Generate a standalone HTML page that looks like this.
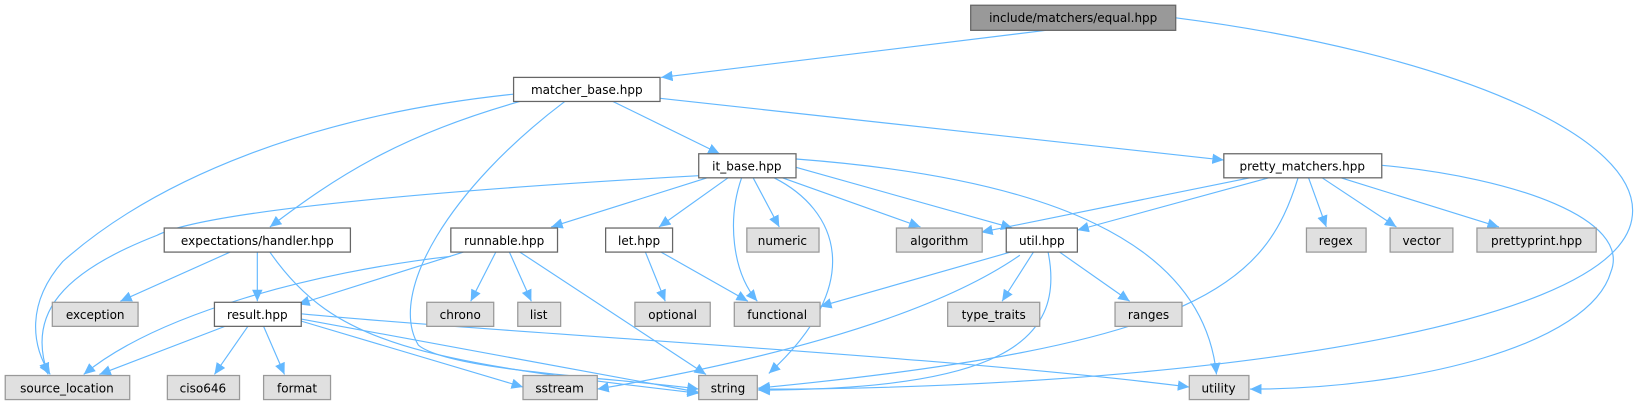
<!DOCTYPE html>
<html><head><meta charset="utf-8"><style>
html,body{margin:0;padding:0;background:#fff;}
svg{display:block;}
text{font-family:"DejaVu Sans","Liberation Sans",sans-serif;font-size:11.5px;fill:#000;text-anchor:middle;}
.n{fill:#fff;stroke:#666;stroke-width:1.2;}
.g{fill:#e0e0e0;stroke:#999;stroke-width:1.2;}
.e{fill:none;stroke:#63b8ff;stroke-width:1.1;}
</style></head><body>
<svg width="1640" height="403" viewBox="0 0 1640 403" xmlns="http://www.w3.org/2000/svg">
<defs><marker id="a" markerUnits="userSpaceOnUse" markerWidth="12" markerHeight="10" refX="11" refY="5" orient="auto"><path d="M0,0 L11,5 L0,10 z" fill="#63b8ff"/></marker></defs>
<g transform="scale(1.046)">
<g class="e" marker-end="url(#a)">
<path d="M1000,29 L632,74"/>
<path d="M1124,17 C1380,50 1575,130 1560,210 C1540,320 1100,372 725,372"/>
<path d="M491,90 C300,110 150,170 60,250 C25,290 30,330 48,358"/>
<path d="M497,97 C380,130 320,170 258,217"/>
<path d="M540,97 C430,180 370,280 400,330 C430,355 600,362 668,372"/>
<path d="M586,97 L688,147"/>
<path d="M631,94 L1170,153"/>
<path d="M668,168 C450,180 200,200 150,225 C60,260 25,300 46,358"/>
<path d="M676,170 L527,217"/>
<path d="M696,170 L630,217"/>
<path d="M709,170 C695,210 700,260 724,288"/>
<path d="M720,170 L745,217"/>
<path d="M740,170 C800,200 830,270 735,357"/>
<path d="M748,170 L880,217"/>
<path d="M761,160 L968,218"/>
<path d="M761,152 C1000,170 1150,230 1163,358"/>
<path d="M1195,170 L938,222"/>
<path d="M1213,170 L1030,220"/>
<path d="M1241,170 C1210,270 1150,330 725,371"/>
<path d="M1251,170 L1268,217"/>
<path d="M1264,170 L1335,217"/>
<path d="M1282,170 L1433,217"/>
<path d="M1321,158 C1450,170 1560,210 1540,260 C1520,330 1350,372 1195,372"/>
<path d="M220,241 L115,288"/>
<path d="M246,241 L246,288"/>
<path d="M258,241 C320,330 400,345 668,376"/>
<path d="M431,245 C300,260 150,300 80,358"/>
<path d="M443,241 L285,291"/>
<path d="M474,241 L450,288"/>
<path d="M487,241 L508,288"/>
<path d="M497,241 L675,358"/>
<path d="M617,241 L636,288"/>
<path d="M632,241 L715,288"/>
<path d="M966,241 L784,293"/>
<path d="M975,244 C880,310 700,350 571,372"/>
<path d="M988,241 L958,288"/>
<path d="M1002,241 C1020,330 950,372 725,373"/>
<path d="M1013,241 L1080,288"/>
<path d="M215,312 L95,358"/>
<path d="M237,312 L205,358"/>
<path d="M252,312 L272,358"/>
<path d="M288,307 L500,370"/>
<path d="M288,305 L668,375"/>
<path d="M288,300 C500,320 900,340 1137,370"/>
</g>
<rect x="928" y="5" width="196" height="24" fill="#999" stroke="#666" stroke-width="1.2"/><text x="1026" y="21">include/matchers/equal.hpp</text>
<rect class="n" x="491" y="74" width="140" height="23"/><text x="561" y="90">matcher_base.hpp</text>
<rect class="n" x="668" y="147" width="93" height="23"/><text x="714" y="163">it_base.hpp</text>
<rect class="n" x="1170" y="147" width="151" height="23"/><text x="1245" y="163">pretty_matchers.hpp</text>
<rect class="n" x="157" y="218" width="178" height="23"/><text x="246" y="234">expectations/handler.hpp</text>
<rect class="n" x="431" y="218" width="102" height="23"/><text x="482" y="234">runnable.hpp</text>
<rect class="n" x="579" y="218" width="64" height="23"/><text x="611" y="234">let.hpp</text>
<rect class="g" x="714" y="218" width="69" height="23"/><text x="748" y="234">numeric</text>
<rect class="g" x="857" y="218" width="82" height="23"/><text x="898" y="234">algorithm</text>
<rect class="n" x="962" y="218" width="68" height="23"/><text x="996" y="234">util.hpp</text>
<rect class="g" x="1249" y="218" width="57" height="23"/><text x="1277" y="234">regex</text>
<rect class="g" x="1329" y="218" width="60" height="23"/><text x="1359" y="234">vector</text>
<rect class="g" x="1412" y="218" width="114" height="23"/><text x="1469" y="234">prettyprint.hpp</text>
<rect class="g" x="50" y="289" width="82" height="23"/><text x="91" y="305">exception</text>
<rect class="n" x="205" y="289" width="83" height="23"/><text x="246" y="305">result.hpp</text>
<rect class="g" x="408" y="289" width="64" height="23"/><text x="440" y="305">chrono</text>
<rect class="g" x="495" y="289" width="41" height="23"/><text x="515" y="305">list</text>
<rect class="g" x="607" y="289" width="72" height="23"/><text x="643" y="305">optional</text>
<rect class="g" x="702" y="289" width="82" height="23"/><text x="743" y="305">functional</text>
<rect class="g" x="906" y="289" width="88" height="23"/><text x="950" y="305">type_traits</text>
<rect class="g" x="1066" y="289" width="64" height="23"/><text x="1098" y="305">ranges</text>
<rect class="g" x="5" y="359" width="119" height="23"/><text x="64" y="375">source_location</text>
<rect class="g" x="160" y="359" width="69" height="23"/><text x="194" y="375">ciso646</text>
<rect class="g" x="252" y="359" width="64" height="23"/><text x="284" y="375">format</text>
<rect class="g" x="500" y="359" width="71" height="23"/><text x="535" y="375">sstream</text>
<rect class="g" x="668" y="359" width="56" height="23"/><text x="696" y="375">string</text>
<rect class="g" x="1137" y="359" width="57" height="23"/><text x="1165" y="375">utility</text>
</g>
</svg>
</body></html>
